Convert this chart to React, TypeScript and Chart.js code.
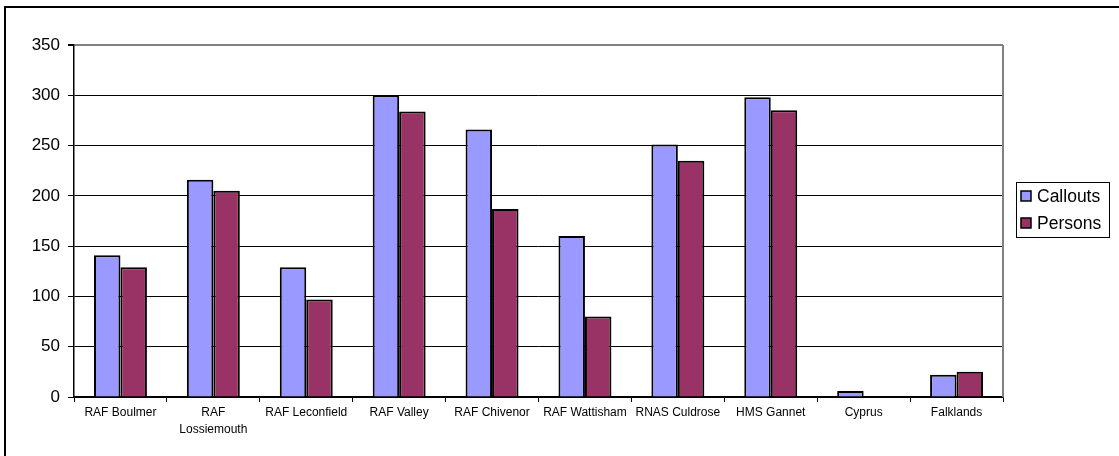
import React, { useEffect, useRef } from "react";
import { Chart, registerables } from "chart.js";

Chart.register(...registerables);

const categories: (string | string[])[] = [
  "RAF Boulmer",
  ["RAF", "Lossiemouth"],
  "RAF Leconfield",
  "RAF Valley",
  "RAF Chivenor",
  "RAF Wattisham",
  "RNAS Culdrose",
  "HMS Gannet",
  "Cyprus",
  "Falklands",
];
const callouts = [141, 216, 129, 300, 266, 160, 251, 298, 6, 22];
const persons = [129, 205, 97, 284, 187, 80, 235, 285, 0, 25];
const seriesNames = ["Callouts", "Persons"];
const FONT = "'Liberation Sans', Arial, sans-serif";

const framePlugin = {
  id: "framePlugin",
  afterDraw(chart: any) {
    const { ctx, chartArea } = chart;
    ctx.save();
    ctx.strokeStyle = "#808080";
    ctx.lineWidth = 2;
    ctx.beginPath();
    ctx.moveTo(chartArea.right, chartArea.top);
    ctx.lineTo(chartArea.right, chartArea.bottom);
    ctx.stroke();
    const lx = chartArea.right + 13;
    const ly = 182;
    const lw = 93;
    const lh = 55;
    ctx.fillStyle = "#fff";
    ctx.fillRect(lx, ly, lw, lh);
    ctx.strokeStyle = "#000";
    ctx.lineWidth = 1;
    ctx.strokeRect(lx + 0.5, ly + 0.5, lw, lh);
    ctx.font = `17.5px ${FONT}`;
    ctx.textBaseline = "middle";
    ctx.textAlign = "left";
    chart.data.datasets.forEach((ds: any, i: number) => {
      const cy = ly + 14 + i * 27;
      ctx.fillStyle = ds.backgroundColor;
      ctx.fillRect(lx + 5, cy - 5, 10, 10);
      ctx.strokeStyle = "#000";
      ctx.lineWidth = 1.5;
      ctx.strokeRect(lx + 5, cy - 5, 10, 10);
      ctx.fillStyle = "#000";
      ctx.fillText(ds.label, lx + 21, cy + 1);
    });
    ctx.restore();
  },
};

export default function App() {
  const ref = useRef<HTMLCanvasElement>(null);
  useEffect(() => {
    if (!ref.current) return;
    const chart = new Chart(ref.current, {
      type: "bar",
      data: {
        labels: categories,
        datasets: [
          {
            label: seriesNames[0],
            data: callouts,
            backgroundColor: "#9999FF",
            borderColor: "#000",
            borderWidth: 2,
            categoryPercentage: 0.57,
            barPercentage: 1,
          },
          {
            label: seriesNames[1],
            data: persons,
            backgroundColor: "#993366",
            borderColor: "#000",
            borderWidth: 2,
            categoryPercentage: 0.57,
            barPercentage: 1,
          },
        ],
      },
      options: {
        responsive: false,
        animation: false,
        layout: { padding: { top: 45, right: 116, left: 0, bottom: 0 } },
        plugins: { legend: { display: false }, tooltip: { enabled: false }, title: { display: false } },
        scales: {
          x: {
            grid: {
              offset: true,
              drawOnChartArea: false,
              drawTicks: true,
              tickLength: 5,
              color: "#000",
              tickColor: "#000",
            },
            border: { color: "#000", width: 1.5 },
            ticks: {
              color: "#000",
              font: { family: FONT, size: 12, lineHeight: 1.35 },
              padding: 3,
              maxRotation: 0,
              autoSkip: false,
            },
            afterFit(scale: any) {
              scale.height = 59;
            },
          },
          y: {
            min: 0,
            max: 350,
            ticks: {
              stepSize: 50,
              color: "#000",
              font: { family: FONT, size: 17 },
              padding: 8,
            },
            grid: {
              color: (c: any) => (c.tick && c.tick.value === 350 ? "#808080" : "#000"),
              lineWidth: (c: any) => (c.tick && c.tick.value === 350 ? 2 : 1),
              tickColor: "#000",
              tickLength: 6,
            },
            border: { color: "#000", width: 1.5 },
            afterFit(scale: any) {
              scale.width = 74;
            },
          },
        },
      },
      plugins: [framePlugin],
    });
    return () => chart.destroy();
  }, []);
  return (
    <div style={{ position: "absolute", left: 0, top: 0, width: 1119, height: 456, background: "#fff", overflow: "hidden" }}>
      <div
        style={{
          position: "absolute",
          left: 4,
          top: 6,
          width: 1200,
          height: 500,
          borderLeft: "2px solid #000",
          borderTop: "2px solid #000",
        }}
      />
      <canvas ref={ref} width={1119} height={456} style={{ position: "absolute", left: 0, top: 0 }} />
    </div>
  );
}
